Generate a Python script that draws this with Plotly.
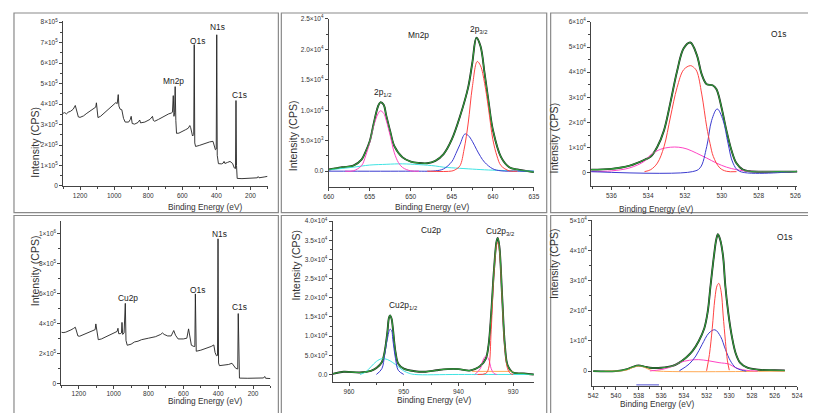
import plotly.graph_objects as go

W, H = 816, 413
FONT = "Liberation Sans, Arial, sans-serif"

GREEN = "#2f9e3a"
RED = "#ff4444"
BLUE = "#3b3bcf"
PINK = "#ff44c4"
CYAN = "#40e3e3"
ORANGE = "#ffaa55"

# ---------------- survey spectra (BE in eV, intensity in 1e5 CPS)
mn_survey_be = [1300, 1290, 1280, 1270, 1255, 1240, 1228, 1224, 1210, 1200,
                1180, 1160, 1140, 1120, 1108, 1104, 1100, 1095, 1080, 1060,
                1040, 1020, 1000, 990, 982, 976, 972, 965, 955, 945,
                935, 915, 905, 900, 894, 880, 860, 850, 845, 820,
                790, 775, 770, 762, 740, 720, 700, 680, 665, 658,
                653, 649, 645, 642, 638, 634, 620, 600, 580, 565,
                556, 551, 546, 540, 533, 530, 527, 522, 500, 480,
                460, 440, 420, 412, 406, 401, 398, 395, 388, 370,
                360, 355, 350, 335, 320, 305, 295, 288, 285, 282,
                278, 250, 200, 160, 155, 150, 120, 100]
mn_survey_cps = [3.55, 3.58, 3.52, 3.6, 3.65, 3.75, 3.93, 3.8, 3.37, 3.35,
                 3.42, 3.55, 3.68, 3.78, 3.85, 4.06, 3.6, 3.34, 3.4, 3.55,
                 3.7, 3.85, 3.97, 4.07, 4.02, 4.46, 3.9, 3.75, 3.72, 3.3,
                 3.12, 3.12, 3.25, 3.4, 3.05, 3.02, 3.1, 3.22, 3.08, 3.12,
                 3.25, 3.4, 3.2, 3.16, 3.25, 3.35, 3.45, 3.52, 3.56, 3.6,
                 4.41, 3.4, 3.6, 4.85, 3.2, 2.57, 2.58, 2.65, 2.75, 2.82,
                 2.95, 2.85, 2.55, 2.44, 2.5, 6.9, 2.1, 1.93, 1.98, 2.05,
                 2.1, 2.15, 2.18, 1.95, 1.77, 1.8, 7.38, 1.5, 1.09, 1.08,
                 1.12, 1.2, 1.1, 1.15, 1.2, 1.1, 0.88, 0.85, 4.17, 1.0,
                 0.37, 0.36, 0.38, 0.4, 0.46, 0.4, 0.44, 0.47]

cu_survey_be = [1300, 1290, 1275, 1260, 1245, 1230, 1220, 1215, 1205, 1195,
                1175, 1155, 1135, 1115, 1106, 1102, 1096, 1088, 1070, 1050,
                1030, 1010, 990, 980, 975, 971, 962, 955, 952, 948,
                940, 933, 929, 922, 900, 880, 860, 840, 800, 760,
                730, 720, 710, 690, 670, 655, 645, 630, 600, 580,
                570, 562, 554, 540, 534, 531, 528, 526, 500, 470,
                440, 425, 418, 410, 404, 401, 398, 393, 360, 340,
                321, 312, 300, 290, 288, 285, 282, 278, 230, 180,
                140, 133, 128, 100]
cu_survey_cps = [3.45, 3.42, 3.45, 3.5, 3.6, 3.7, 3.78, 3.6, 3.2, 3.18,
                 3.28, 3.38, 3.5, 3.6, 3.62, 4.0, 3.5, 2.95, 3.0, 3.1,
                 3.2, 3.32, 3.42, 3.5, 3.71, 3.35, 3.35, 3.4, 4.1, 3.3,
                 3.4, 5.37, 2.9, 2.58, 2.65, 2.8, 2.85, 2.95, 3.05, 3.15,
                 3.3, 3.4, 3.3, 3.2, 3.2, 3.56, 3.25, 3.0, 3.0, 3.05,
                 3.67, 3.0, 2.58, 2.5, 2.5, 6.0, 2.3, 2.18, 2.25, 2.35,
                 2.5, 2.6, 2.1, 1.88, 1.9, 9.67, 1.4, 1.22, 1.25, 1.3,
                 1.38, 1.25, 1.05, 1.0, 1.0, 4.69, 0.6, 0.39, 0.38, 0.39,
                 0.4, 0.5, 0.38, 0.36]

# ---------------- Mn2p fit (intensity in 1e3 CPS)
mn2p_env_be = [660, 659, 658, 657, 656, 655.5, 655, 654.5, 654, 653.7, 653.3, 653,
               652.5, 652, 651, 650, 649, 648, 647, 646, 645, 644, 643, 642.5,
               642, 641.5, 641, 640.5, 640, 639, 638, 637, 636, 635]
mn2p_env = [0.27, 0.5, 0.7, 0.9, 1.9, 3.2, 4.9, 7.9, 10.6, 11.3, 10.9, 9.2,
            6.5, 4.1, 2.26, 1.56, 1.34, 1.3, 1.7, 2.8, 5.2, 9.0, 13.8, 17.8,
            21.9, 20.5, 16.0, 11.2, 6.8, 2.3, 0.65, 0.27, 0.05, -0.16]
mn2p_half_be = [658, 657, 656, 655.5, 655, 654.5, 654, 653.7, 653.3, 653, 652.5, 652,
                651.5, 651, 650, 649]
mn2p_half = [0, 0.05, 0.9, 2.5, 4.7, 7.5, 9.4, 9.9, 9.5, 8.4, 5.8, 3.0,
             1.4, 0.6, 0.05, 0]
mn2p_bg_be = [660, 658, 657, 655, 653, 652, 651, 649, 647, 646, 645, 643, 641, 640,
              638, 637, 635]
mn2p_bg = [0.2, 0.5, 0.65, 1.0, 1.12, 1.18, 1.2, 1.07, 0.85, 0.65, 0.55, 0.38, 0.22, 0.16,
           0.08, 0.05, 0.0]
mn2p_sat_be = [660, 650, 647, 646, 645, 644.5, 644, 643.4, 643, 642.5, 642, 641.5,
               641, 640, 639, 637, 635]
mn2p_sat = [0, 0, 0.05, 0.37, 1.56, 2.9, 4.4, 6.1, 5.86, 4.9, 3.6, 2.4,
            1.45, 0.38, 0.05, 0, 0]
mn2p_main_be = [648, 645, 644.5, 644, 643.5, 643, 642.5, 641.9, 641.5, 641, 640.5, 640,
                639.5, 639, 638, 637]
mn2p_main = [0, 0.02, 0.3, 0.9, 3.6, 7.9, 13.8, 18.0, 17.3, 14.4, 10.0, 5.2,
             2.5, 0.9, 0.05, 0]

# ---------------- O1s fit, Mn sample (1e3 CPS)
o1a_env_be = [537.1, 536, 535, 534.2, 533.86, 533.5, 533.14, 532.79, 532.43, 532.07,
              531.71, 531.36, 531.09, 530.82, 530.5, 530.29, 530.02, 529.75, 529.48, 529.21,
              528.86, 528.5, 527, 526, 525.9]
o1a_env = [1.3, 1.6, 2.9, 5.2, 6.5, 10.4, 16.9, 28.0, 40.4, 49.5,
           51.8, 46.9, 39.1, 35.2, 34.8, 33.2, 26.1, 16.9, 9.1, 3.9,
           1.3, 0.65, 0.5, 0.5, 0.55]
o1a_red_be = [534.2, 533.86, 533.5, 533.14, 532.79, 532.43, 532.07, 531.71, 531.54, 531.36,
              531.09, 530.82, 530.64, 530.46, 530.11, 529.75, 529.2]
o1a_red = [0.5, 1.3, 3.9, 10.4, 22.2, 33.9, 41.0, 42.6, 42.0, 40.4,
           31.3, 18.3, 11.7, 6.5, 2.0, 0.65, 0.5]
o1a_blue_be = [537.1, 531.6, 531.18, 530.82, 530.55, 530.25, 529.93, 529.66, 529.39, 529.04,
               526, 525.9]
o1a_blue = [0.5, 0.5, 2.0, 10.4, 20.9, 25.4, 20.9, 11.7, 3.9, 0.65, 0.5, 0.5]
o1a_pink_be = [537.1, 536, 535, 534.21, 533.86, 533.32, 532.79, 532.34, 531.89, 531.36,
               530.82, 530.29, 529.75, 529.21, 528.5, 527, 525.9]
o1a_pink = [0.5, 0.8, 2.0, 4.6, 7.2, 9.4, 10.2, 10.2, 9.5, 7.8,
            5.9, 3.9, 2.3, 1.3, 0.65, 0.5, 0.5]

# ---------------- Cu2p fit (1e3 CPS)
cu2p_env_be = [963, 961, 958, 956, 955, 954, 953.5, 953, 952.7, 952.5,
               952.2, 952, 951.5, 951, 950, 948, 946, 944, 942, 940,
               938, 937, 936, 935, 934.5, 934, 933.5, 933, 932.8, 932.5,
               932, 931.5, 931, 930, 928, 926.2]
cu2p_env = [0.17, 0.7, 0.5, 0.94, 1.7, 3.2, 5.8, 10.9, 14.8, 15.4,
            14.4, 12.2, 5.8, 2.8, 1.5, 0.85, 0.7, 1.1, 1.4, 1.4,
            1.0, 1.4, 2.2, 4.1, 7.5, 16.0, 27.2, 34.9, 35.6, 33.2,
            20.3, 7.5, 2.4, 0.5, 0.26, 0.0]
cu2p_half_be = [955, 954, 953.5, 953, 952.5, 952.2, 952, 951.5, 951, 950]
cu2p_half = [0, 1.5, 5.0, 9.2, 11.8, 11.4, 9.2, 4.1, 1.1, 0]
cu2p_bg_be = [958, 957, 956, 955, 954, 953, 952, 951, 950, 949, 948, 940, 926.2]
cu2p_bg = [0, 0.6, 2.0, 3.4, 4.1, 3.9, 3.1, 2.0, 0.94, 0.3, 0, 0, 0]
cu2p_sat_be = [937, 936, 935.5, 935, 934.5, 934, 933.5, 933]
cu2p_sat = [0, 1.5, 3.7, 4.8, 4.1, 1.5, 0.26, 0]
cu2p_main_be = [936.5, 935, 934.5, 934, 933.5, 933, 932.8, 932.5, 932, 931.5,
                931, 930.5, 930]
cu2p_main = [0, 0.26, 1.5, 11.8, 26.3, 33.8, 34.4, 32.3, 19.5, 6.7,
             1.5, 0.26, 0]
cu2p_base_be = [937.5, 930]
cu2p_base = [0.8, 0.8]

# ---------------- O1s fit, Cu sample (1e3 CPS)
o1b_env_be = [542, 540, 539, 538.5, 538, 537.5, 537, 536, 535, 534.4,
              533.8, 533.25, 532.7, 532.2, 531.9, 531.65, 531.35, 531.15, 531, 530.8,
              530.55, 530.35, 530.1, 529.8, 529.45, 529.05, 528.45, 527.4, 526, 525.1]
o1b_env = [0, 0, 0.65, 1.4, 1.85, 1.5, 1.1, 1.1, 1.7, 2.8,
           4.5, 6.6, 9.9, 14.2, 19.7, 28.4, 38.2, 43.6, 45.4, 43.6,
           38.2, 28.4, 19.7, 12.1, 6.1, 2.8, 1.2, 0.43, 0.3, 0.2]
o1b_red_be = [532, 531.75, 531.5, 531.27, 531.07, 530.92, 530.71, 530.54, 530.34, 530.16, 530]
o1b_red = [0.1, 5.5, 14.2, 24.0, 28.4, 29.1, 26.2, 18.6, 9.9, 3.4, 0.3]
o1b_blue_be = [534.4, 533.55, 532.95, 532.4, 531.8, 531.27, 530.77, 530.34, 529.9, 529.45,
               528.9, 528.5]
o1b_blue = [0.1, 2.3, 5.0, 8.8, 12.6, 13.7, 11.5, 7.2, 3.4, 1.2, 0.3, 0]
o1b_pink_be = [537, 536, 535, 534.4, 533.5, 532.7, 531.8, 530.9, 530, 529.5, 528.6, 527.5]
o1b_pink = [0.05, 0.5, 1.6, 2.8, 3.6, 3.8, 3.4, 2.8, 2.3, 1.2, 0.3, 0]
o1b_sat_be = [541, 539.5, 539, 538.5, 538, 537.5, 537, 536.3, 525.1]
o1b_sat = [0, 0.1, 0.4, 1.2, 1.7, 1.3, 0.4, 0, 0]
o1b_stray_be = [538.2, 536.2]
o1b_stray = [-4.6, -4.6]


def sci(m, e):
    return f"{m}×10<sup>{e}</sup>"


def px(x):
    return x / W


def py(y):
    return 1 - y / H


fig = go.Figure()

# panel geometry in page pixels: x left/right, y top/bottom
panels = [
    dict(xd=(50.7, 258), yd=(9, 177), xr=[1300, 100], yr=[0, 8.06e5],
         x0=200, dx=200, mx=100,
         yv=[i * 1e5 for i in range(9)],
         yt=["0"] + [sci(i, 5) for i in range(1, 9)]),
    dict(xd=(320, 528), yd=(7, 178), xr=[660, 635], yr=[-2.6e3, 2.5e4],
         x0=635, dx=5, mx=2.5,
         yv=[0, 5e3, 1e4, 1.5e4, 2e4, 2.5e4],
         yt=["0.0", sci("5.0", 3), sci("1.0", 4), sci("1.5", 4), sci("2.0", 4), sci("2.5", 4)]),
    dict(xd=(586, 795), yd=(10, 177), xr=[537.1, 525.9], yr=[-5.2e3, 6e4],
         x0=526, dx=2, mx=1,
         yv=[i * 1e4 for i in range(7)],
         yt=["0"] + [sci(i, 4) for i in range(1, 7)]),
    dict(xd=(49, 261), yd=(213, 379), xr=[1300, 100], yr=[-0.04e5, 10.83e5],
         x0=200, dx=200, mx=100,
         yv=[0, 2e5, 4e5, 6e5, 8e5, 1e6],
         yt=["0", sci(2, 5), sci(4, 5), sci(6, 5), sci(8, 5), sci(1, 6)]),
    dict(xd=(324, 528), yd=(212.7, 376.7), xr=[963, 926.2], yr=[-2.05e3, 4.0e4],
         x0=930, dx=10, mx=5,
         yv=[i * 5e3 for i in range(9)],
         yt=["0.0", sci("5.0", 3), sci("1.0", 4), sci("1.5", 4), sci("2.0", 4),
             sci("2.5", 4), sci("3.0", 4), sci("3.5", 4), sci("4.0", 4)]),
    dict(xd=(587, 795), yd=(212, 380.3), xr=[542.1, 524], yr=[-4.9e3, 5e4],
         x0=524, dx=2, mx=1,
         yv=[i * 1e4 for i in range(6)],
         yt=["0"] + [sci(i, 4) for i in range(1, 6)]),
]

axis_font = dict(family=FONT, size=6.5, color="#333")
layout_axes = {}
for i, p in enumerate(panels, start=1):
    sfx = "" if i == 1 else str(i)
    yv = p["yv"]
    yminor = [(a + b) / 2 for a, b in zip(yv[:-1], yv[1:])]
    layout_axes["xaxis" + sfx] = dict(
        domain=[px(p["xd"][0]), px(p["xd"][1])], range=p["xr"], anchor="y" + sfx,
        tickmode="linear", tick0=p["x0"], dtick=p["dx"],
        ticks="outside", ticklen=3, tickwidth=0.8, tickcolor="#444",
        minor=dict(ticks="outside", ticklen=2, tickwidth=0.7, tickcolor="#444",
                   tickmode="linear", tick0=p["x0"], dtick=p["mx"]),
        showline=True, linecolor="#444", linewidth=0.9, mirror=False,
        showgrid=False, zeroline=False, tickfont=axis_font,
    )
    layout_axes["yaxis" + sfx] = dict(
        domain=[py(p["yd"][1]), py(p["yd"][0])], range=p["yr"], anchor="x" + sfx,
        tickmode="array", tickvals=yv, ticktext=p["yt"],
        ticks="outside", ticklen=3, tickwidth=0.8, tickcolor="#444",
        minor=dict(ticks="outside", ticklen=2, tickwidth=0.7, tickcolor="#444",
                   tickmode="array", tickvals=yminor),
        showline=True, linecolor="#444", linewidth=0.9, mirror=False,
        showgrid=False, zeroline=False, tickfont=axis_font,
    )


def line(n, x, y, color, width=1.0, scale=1.0, shape="spline"):
    sfx = "" if n == 1 else str(n)
    fig.add_trace(go.Scatter(
        x=x, y=[v * scale for v in y], mode="lines",
        line=dict(color=color, width=width, shape=shape),
        xaxis="x" + sfx, yaxis="y" + sfx, hoverinfo="skip",
    ))


# surveys
line(1, mn_survey_be, mn_survey_cps, "#222", 0.9, 1e5, "linear")
line(4, cu_survey_be, cu_survey_cps, "#222", 0.9, 1e5, "linear")

# Mn2p
line(2, mn2p_env_be, mn2p_env, "#222", 1.9, 1e3)
line(2, mn2p_bg_be, mn2p_bg, CYAN, 1.0, 1e3)
line(2, mn2p_sat_be, mn2p_sat, BLUE, 1.0, 1e3)
line(2, mn2p_half_be, mn2p_half, PINK, 1.0, 1e3)
line(2, mn2p_main_be, mn2p_main, RED, 1.0, 1e3)
line(2, mn2p_env_be, mn2p_env, GREEN, 1.1, 1e3)

# O1s (Mn)
line(3, o1a_env_be, o1a_env, "#222", 1.9, 1e3)
line(3, o1a_pink_be, o1a_pink, PINK, 1.0, 1e3)
line(3, o1a_blue_be, o1a_blue, BLUE, 1.0, 1e3)
line(3, o1a_red_be, o1a_red, RED, 1.0, 1e3)
line(3, o1a_env_be, o1a_env, GREEN, 1.1, 1e3)

# Cu2p
line(5, cu2p_env_be, cu2p_env, "#222", 1.9, 1e3)
line(5, cu2p_bg_be, cu2p_bg, CYAN, 1.0, 1e3)
line(5, cu2p_base_be, cu2p_base, ORANGE, 1.0, 1e3, "linear")
line(5, cu2p_half_be, cu2p_half, BLUE, 1.0, 1e3)
line(5, cu2p_sat_be, cu2p_sat, PINK, 1.0, 1e3)
line(5, cu2p_main_be, cu2p_main, RED, 1.0, 1e3)
line(5, cu2p_env_be, cu2p_env, GREEN, 1.1, 1e3)

# O1s (Cu)
line(6, o1b_env_be, o1b_env, "#222", 1.9, 1e3)
line(6, o1b_sat_be, o1b_sat, ORANGE, 1.0, 1e3)
line(6, o1b_stray_be, o1b_stray, BLUE, 1.0, 1e3, "linear")
line(6, o1b_pink_be, o1b_pink, PINK, 1.0, 1e3)
line(6, o1b_blue_be, o1b_blue, BLUE, 1.0, 1e3)
line(6, o1b_red_be, o1b_red, RED, 1.0, 1e3)
line(6, o1b_env_be, o1b_env, GREEN, 1.1, 1e3)

# peak labels (data coordinates)
labels = [
    (1, 651, 5.1e5, "Mn2p"), (1, 512, 7.1e5, "O1s"), (1, 393, 7.74e5, "N1s"),
    (1, 265, 4.46e5, "C1s"),
    (2, 649.1, 2.24e4, "Mn2p"), (2, 641.7, 2.32e4, "2p<sub>3/2</sub>"),
    (2, 653.5, 1.285e4, "2p<sub>1/2</sub>"),
    (3, 526.9, 5.5e4, "O1s"),
    (4, 915, 5.72e5, "Cu2p"), (4, 521, 6.24e5, "O1s"), (4, 395, 9.96e5, "N1s"),
    (4, 278, 5.1e5, "C1s"),
    (5, 945, 3.76e4, "Cu2p"), (5, 932.4, 3.74e4, "Cu2p<sub>3/2</sub>"),
    (5, 950.2, 1.79e4, "Cu2p<sub>1/2</sub>"),
    (6, 525.1, 4.46e4, "O1s"),
]
annotations = []
for n, x, y, txt in labels:
    sfx = "" if n == 1 else str(n)
    annotations.append(dict(x=x, y=y, xref="x" + sfx, yref="y" + sfx, text=txt,
                            showarrow=False, font=dict(family=FONT, size=8.4, color="#222")))

# axis titles (page pixels)
ytitles = [(14, 94), (284, 88), (556, 90), (15, 301), (287, 296), (556, 294)]
xtitles = [(155, 198), (425, 198), (691, 200), (155, 403), (427, 402), (692, 405.5)]
for (yx, yy), (xx, xy) in zip(ytitles, xtitles):
    annotations.append(dict(x=px(yx), y=py(yy), xref="paper", yref="paper",
                            text="Intensity (CPS)", textangle=-90, showarrow=False,
                            font=dict(family=FONT, size=10.5, color="#333")))
    annotations.append(dict(x=px(xx), y=py(xy), xref="paper", yref="paper",
                            text="Binding Energy (eV)", showarrow=False,
                            font=dict(family=FONT, size=8.3, color="#333")))

# panel frames
frames = [(1, 1, 269, 204), (272, 1, 541, 204), (545, 1, 813, 204),
          (1, 207, 269, 410), (272, 207, 541, 410), (545, 207, 813, 410)]
shapes = [dict(type="rect", xref="paper", yref="paper",
               x0=px(a), x1=px(c), y0=py(d), y1=py(b),
               line=dict(color="#8a8a8a", width=1.2), layer="below")
          for a, b, c, d in frames]

fig.update_layout(
    width=W, height=H, margin=dict(l=0, r=0, t=0, b=0),
    paper_bgcolor="white", plot_bgcolor="white", showlegend=False,
    font=dict(family=FONT, color="#333"),
    annotations=annotations, shapes=shapes, **layout_axes,
)

fig.write_html("out.html")
